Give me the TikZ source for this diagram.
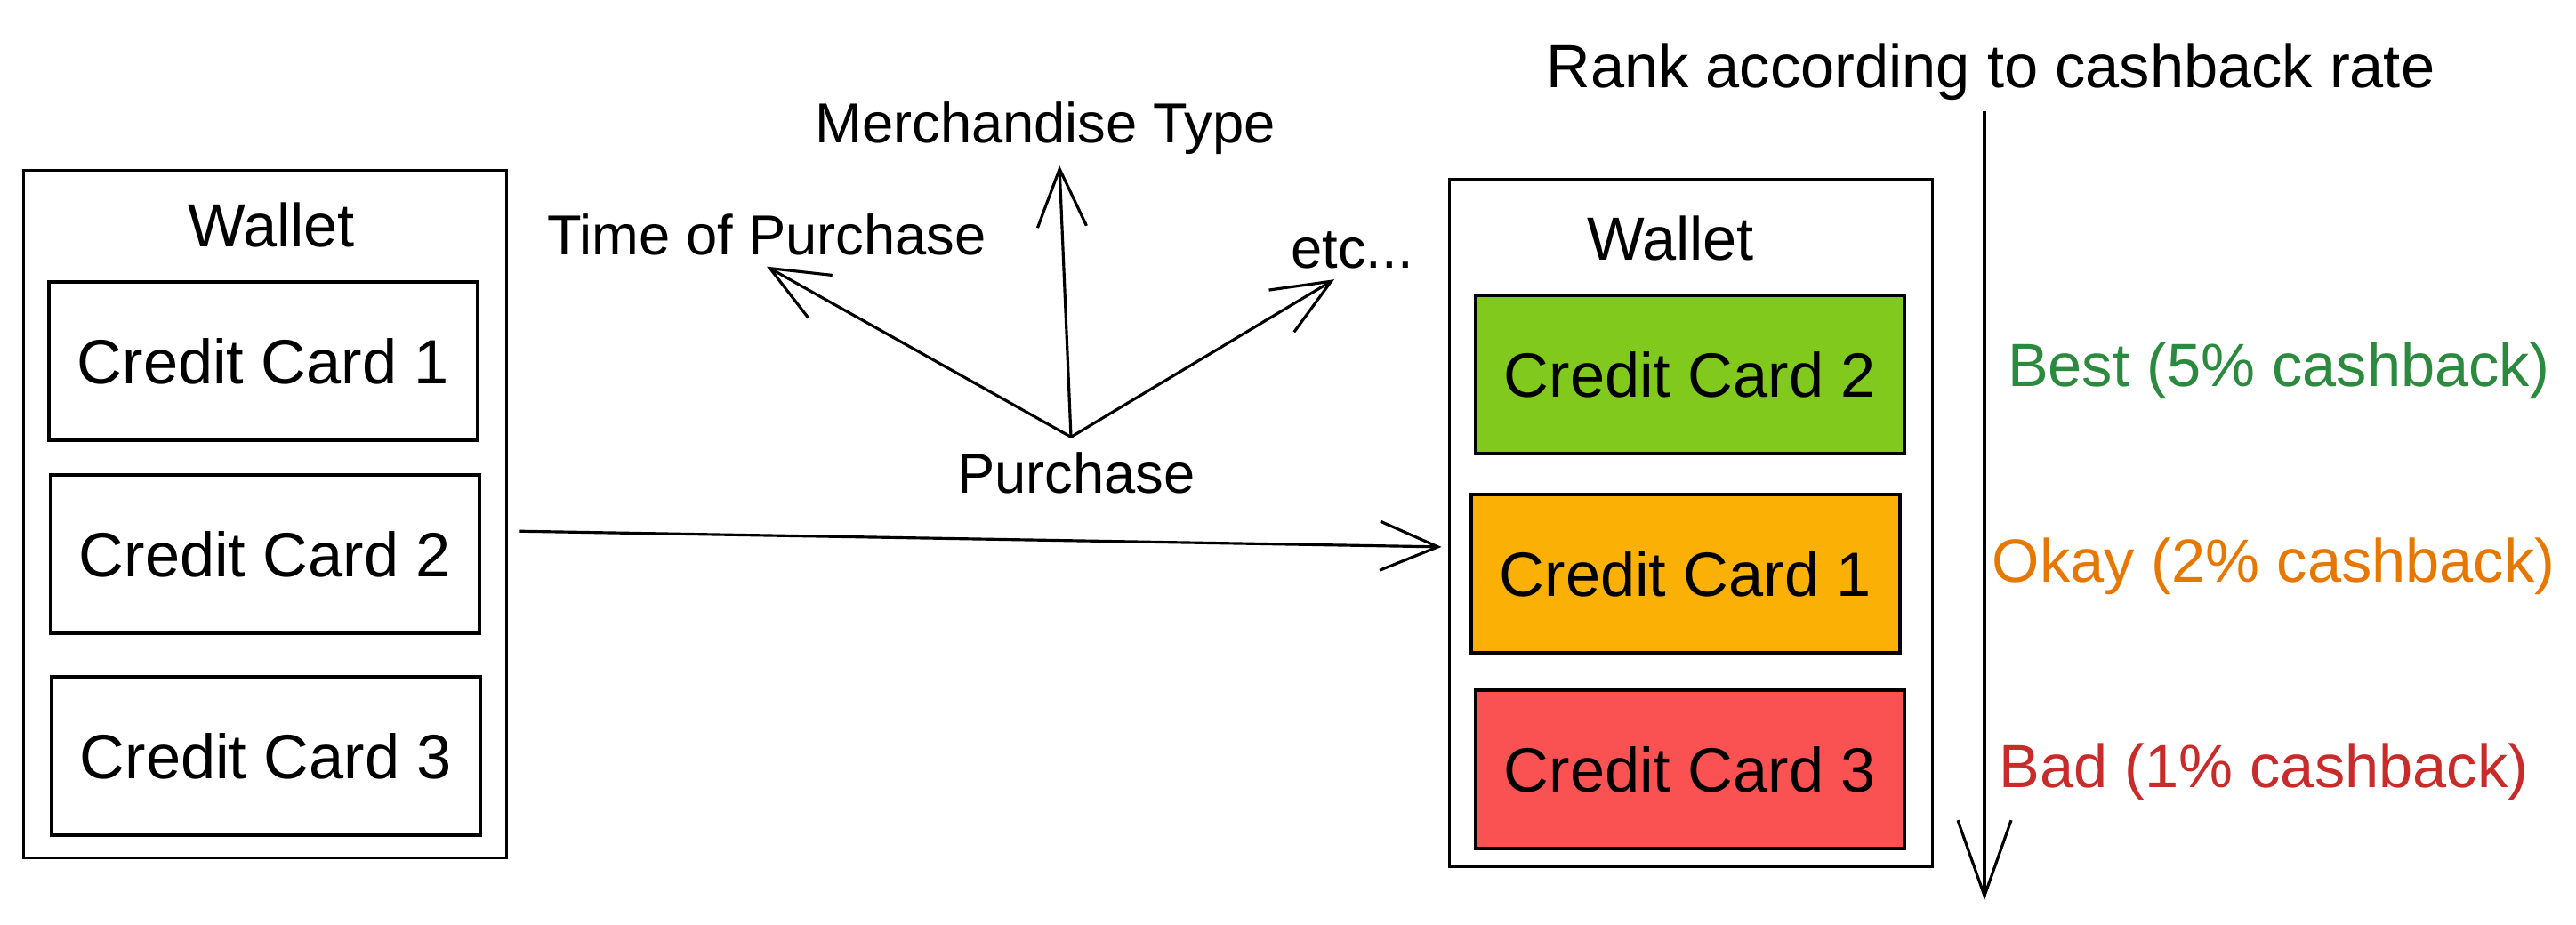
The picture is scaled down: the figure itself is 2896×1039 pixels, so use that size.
\documentclass[tikz,border=0pt]{standalone}
\usepackage{fontspec}
\setmainfont{Liberation Sans}
\usetikzlibrary{arrows.meta}

\definecolor{cardgreen}{HTML}{82C91E}
\definecolor{cardorange}{HTML}{FAB005}
\definecolor{cardred}{HTML}{FA5252}
\definecolor{txtgreen}{HTML}{2B8A3E}
\definecolor{txtorange}{HTML}{E67700}
\definecolor{txtred}{HTML}{C92A2A}

\tikzset{
	wallet/.style={draw, line width=1pt, minimum width=5.43cm, minimum height=7.73cm},
	card/.style={draw, line width=1pt, minimum width=4.82cm, minimum height=1.78cm, font=\fontsize{20}{24}\selectfont},
	lbl/.style={font=\fontsize{19.5}{24}\selectfont},
	plbl/.style={font=\fontsize{18}{22}\selectfont},
	sketch/.style={-{Straight Barb[length=0.65cm,width=0.55cm]}, line width=0.9pt}
}

\begin{document}
\begin{tikzpicture}[x=0.01cm,y=-0.01cm]
			\useasboundingbox (0,0) rectangle (2896,1039);
			% left wallet
			\node[wallet] (lwallet) at (298,578) {};
			\node[lbl] (ltitle) at (305,253) {Wallet};
			\node[card] (lcard1) at (296,406) {Credit Card 1};
			\node[card] (lcard2) at (298,623) {Credit Card 2};
			\node[card] (lcard3) at (299,850) {Credit Card 3};
			% right wallet
			\node[wallet] (rwallet) at (1901,588) {};
			\node[lbl] (rtitle) at (1878,268) {Wallet};
			\node[card, fill=cardgreen] (rcard2) at (1900,421) {Credit Card 2};
			\node[card, fill=cardorange] (rcard1) at (1895,645) {Credit Card 1};
			\node[card, fill=cardred] (rcard3) at (1900,865) {Credit Card 3};
			\draw[sketch, shorten <=0.13cm, shorten >=0.07cm] ([yshift=-0.19cm]lwallet.east) -- ([yshift=-0.27cm]rwallet.west);
			% purchase
			\node[plbl] (purchase) at (1210,532) {Purchase};
			\node[plbl] (timep) at (862,264) {Time of Purchase};
			\node[plbl] (merch) at (1175,144) {Merchandise Type};
			\node[plbl] (etc) at (1520,281) {etc...};
			\draw[sketch] ([xshift=-0.06cm,yshift=0.05cm]purchase.north) -- (timep.south);
			\draw[sketch] ([xshift=-0.06cm,yshift=0.05cm]purchase.north) -- ([xshift=0.16cm]merch.south);
			\draw[sketch] ([xshift=-0.06cm,yshift=0.05cm]purchase.north) -- ([xshift=-0.2cm]etc.south);
			% ranking
			\node[lbl] (rank) at (2238,81) {Rank according to cashback rate};
			\coordinate (rankend) at (2231,1012);
			\draw[sketch, -{Straight Barb[length=0.85cm,width=0.6cm]}] (rank.south -| rankend) -- (rankend);
			\node[lbl, text=txtgreen] (best) at (2562,417) {Best (5\% cashback)};
			\node[lbl, text=txtorange] (okay) at (2556,637) {Okay (2\% cashback)};
			\node[lbl, text=txtred] (bad) at (2545,868) {Bad (1\% cashback)};
		\end{tikzpicture}
\end{document}
